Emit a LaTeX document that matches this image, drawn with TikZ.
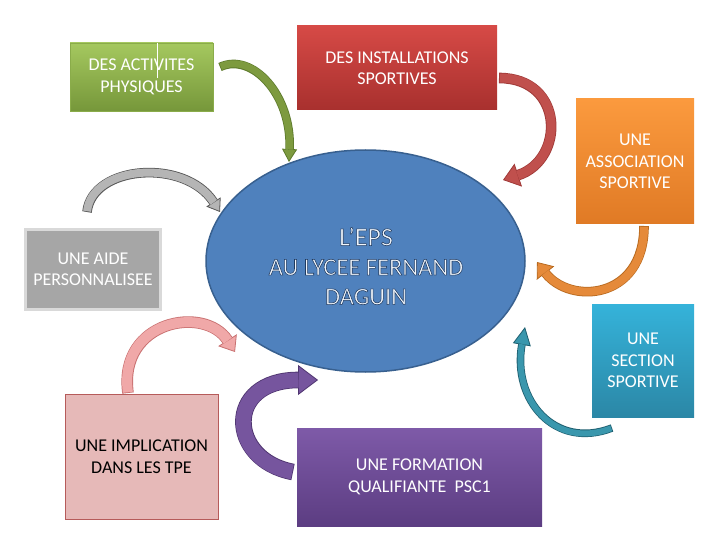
\documentclass[tikz,border=0pt]{standalone}
\usepackage{fontspec}
\setmainfont{Carlito}
\usetikzlibrary{arrows.meta,shapes.geometric}
\definecolor{grT}{HTML}{A5C85F}\definecolor{grB}{HTML}{76973A}\definecolor{grL}{HTML}{8AAC4A}
\definecolor{rdT}{HTML}{D64A46}\definecolor{rdB}{HTML}{A8302E}
\definecolor{orT}{HTML}{FB9A3E}\definecolor{orB}{HTML}{E07A25}
\definecolor{gyF}{HTML}{A6A6A6}\definecolor{gyL}{HTML}{D9D9D9}
\definecolor{cyT}{HTML}{35B3DA}\definecolor{cyB}{HTML}{2B87A6}
\definecolor{pkF}{HTML}{E6B9B8}\definecolor{pkL}{HTML}{B65B5A}
\definecolor{puT}{HTML}{7E5AA8}\definecolor{puB}{HTML}{5C3D82}
\definecolor{elF}{HTML}{4F81BD}\definecolor{elL}{HTML}{38608F}
\definecolor{elTx}{HTML}{F0F5FB}
\definecolor{aGrF}{HTML}{7D9A3F}\definecolor{aGrL}{HTML}{5D7A2C}
\definecolor{aRdF}{HTML}{C0504D}\definecolor{aRdL}{HTML}{A03A38}
\definecolor{aOrF}{HTML}{E58A3A}\definecolor{aOrL}{HTML}{B86A20}
\definecolor{aGyF}{HTML}{B5B5B5}\definecolor{aGyL}{HTML}{555555}
\definecolor{aPkF}{HTML}{F0A8A8}\definecolor{aPkL}{HTML}{C87070}
\definecolor{aPuF}{HTML}{76559E}\definecolor{aPuL}{HTML}{4F3570}
\definecolor{aTlF}{HTML}{3A97AD}\definecolor{aTlL}{HTML}{1F5F70}
\newcommand\outlinetxt[1]{\special{pdf:literal direct 2 Tr 0.55 w 0.122 0.227 0.376 RG}#1\special{pdf:literal direct 0 Tr}}
\newcommand\fatarrow[6]{%
  \draw[line width=#3+1.6pt, draw=#1, -{Triangle[width=#4, length=#5, line width=0.8pt, color=#1, fill=#2]}] #6;
  \draw[line width=#3, draw=#2, shorten >=#5-0.5pt, shorten <=0.8pt] #6;
}
\begin{document}
\begin{tikzpicture}[x=1pt,y=-1pt,
  box/.style={rectangle, inner sep=0pt, align=center, text=white,
    font=\fontsize{18}{21.5}\selectfont},
  ell/.style={ellipse, inner sep=0pt, draw=elL, line width=1.5pt, fill=elF,
    minimum width=319pt, minimum height=222pt, align=center}]
\useasboundingbox (0,0) rectangle (720,540);
% boxes
\node[box, top color=grT, bottom color=grB, draw=grL, line width=0.8pt,
  minimum width=143pt, minimum height=68pt] (act) at (141.5,77) {DES ACTIVITES\\PHYSIQUES};
\coordinate (curA) at (157,43.5);
\coordinate (curB) at (157,78);
\draw[white, line width=0.8pt] (curA) -- (curB);
\node[box, top color=rdT, bottom color=rdB,
  minimum width=200pt, minimum height=84pt] (inst) at (397,68) {DES INSTALLATIONS\\SPORTIVES};
\node[box, top color=orT, bottom color=orB,
  minimum width=118pt, minimum height=125pt] (asso) at (635,161.5) {UNE\\ASSOCIATION\\SPORTIVE};
\node[box, fill=gyF, draw=gyL, line width=3pt,
  minimum width=135pt, minimum height=80pt] (aide) at (93,269.5) {UNE AIDE\\PERSONNALISEE};
\node[box, top color=cyT, bottom color=cyB,
  minimum width=102pt, minimum height=113pt] (sect) at (643,360.5) {UNE\\SECTION\\SPORTIVE};
\node[box, fill=pkF, draw=pkL, line width=0.8pt, text=black,
  minimum width=153pt, minimum height=125pt] (tpe) at (141.5,456.5) {UNE IMPLICATION\\DANS LES TPE};
\node[box, top color=puT, bottom color=puB,
  minimum width=245pt, minimum height=98pt] (form) at (419.5,477) {UNE FORMATION\\QUALIFIANTE~~PSC1};
% ellipse
\node[ell] (eps) at (365.5,261) {};
\node[align=center, inner sep=0pt, text=elTx, font=\fontsize{24.5}{29.5}\selectfont] (epsT) at (366,266)
  {{\fontsize{26}{29.5}\selectfont\outlinetxt{L’EPS}}\\
   \outlinetxt{AU LYCEE FERNAND}\\
   \outlinetxt{DAGUIN}};
% arrows
\fatarrow{aGrL}{aGrF}{7pt}{15pt}{13pt}{(220,67) .. controls (252,52) and (292,95) .. (289,162)}
\fatarrow{aRdL}{aRdF}{9pt}{24pt}{16pt}{(499,78) .. controls (565,78) and (565,160) .. (503,180)}
\fatarrow{aOrL}{aOrF}{8pt}{22pt}{14pt}{(644,226) .. controls (644,300) and (570,305) .. (537,262)}
\fatarrow{aGyL}{aGyF}{8pt}{17pt}{12pt}{(87,212) .. controls (92,165) and (185,158) .. (220,212)}
\fatarrow{aPkL}{aPkF}{10pt}{22pt}{14pt}{(128,393) .. controls (118,320) and (205,305) .. (235,352)}
\fatarrow{aPuL}{aPuF}{15pt}{30pt}{20pt}{(293,472) .. controls (228,460) and (224,380) .. (318,380)}
\fatarrow{aTlL}{aTlF}{6pt}{18pt}{18pt}{(612,428) .. controls (555,450) and (512,400) .. (525,327)}
\end{tikzpicture}
\end{document}
